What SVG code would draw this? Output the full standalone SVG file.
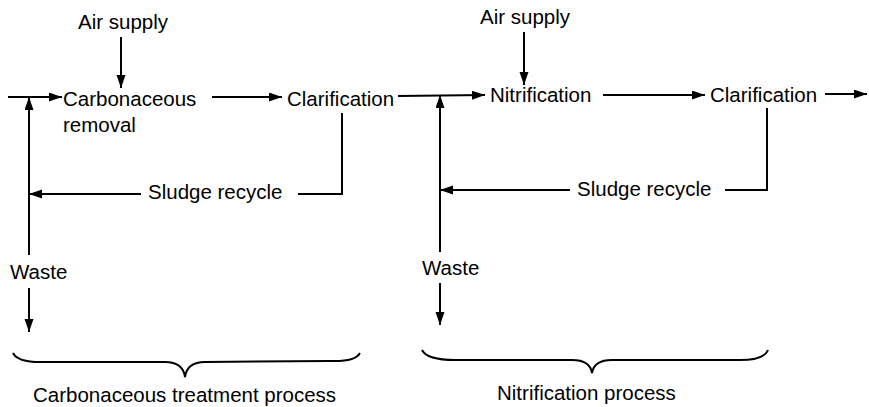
<svg xmlns="http://www.w3.org/2000/svg" width="869" height="407" viewBox="0 0 869 407">
<style>
text{font-family:"Liberation Sans",Arial,sans-serif;font-size:20.5px;fill:#000}
.c line,.c polyline{stroke:#000;stroke-width:2;fill:none}
.a{marker-end:url(#ah)}
.br{stroke:#000;stroke-width:2;fill:none}
</style>
<defs>
<marker id="ah" markerUnits="userSpaceOnUse" markerWidth="14" markerHeight="10" refX="13" refY="4.5" orient="auto">
<path d="M0,0 L13,4.5 L0,9 z" fill="#000"/>
</marker>
</defs>
<rect width="869" height="407" fill="#fff"/>
<g id="air1"><text x="78" y="29">Air supply</text></g>
<g id="carb"><text x="63" y="106">Carbonaceous</text><text x="63" y="132">removal</text></g>
<g id="clar1"><text x="287" y="106">Clarification</text></g>
<g id="sludge1"><text x="148" y="199">Sludge recycle</text></g>
<g id="waste1"><text x="10" y="279">Waste</text></g>
<g id="air2"><text x="480" y="24">Air supply</text></g>
<g id="nitr"><text x="490" y="102">Nitrification</text></g>
<g id="clar2"><text x="710" y="102">Clarification</text></g>
<g id="sludge2"><text x="577" y="196">Sludge recycle</text></g>
<g id="waste2"><text x="422" y="275">Waste</text></g>
<g id="proc1"><path class="br" d="M13,353 Q18,363 45,362 L165,362 Q183,362 185,377 Q187,362 205,362 L330,361 Q355,362 360,353"/><text x="33" y="402">Carbonaceous treatment process</text></g>
<g id="proc2"><path class="br" d="M422,350 Q427,360 455,360 L572,360 Q590,360 592,373 Q594,360 612,360 L740,360 Q764,360 768,350"/><text x="497" y="400">Nitrification process</text></g>
<g id="connectors" class="c">
<line class="a" x1="121" y1="37" x2="121" y2="88"/>
<line class="a" x1="8" y1="97" x2="62" y2="97"/>
<line class="a" x1="212" y1="97" x2="282" y2="97"/>
<line class="a" x1="398" y1="96" x2="485" y2="95"/>
<polyline points="342,113 342,194 298,194"/>
<line class="a" x1="141" y1="194" x2="29" y2="194"/>
<line class="a" x1="29" y1="255" x2="29" y2="97"/>
<line class="a" x1="29" y1="288" x2="29" y2="332"/>
<line class="a" x1="524" y1="32" x2="524" y2="85"/>
<line class="a" x1="603" y1="95" x2="705" y2="95"/>
<line class="a" x1="825" y1="94" x2="867" y2="94"/>
<polyline points="767,108 767,190 725,190"/>
<line class="a" x1="570" y1="190" x2="440" y2="190"/>
<line class="a" x1="440" y1="252" x2="440" y2="95"/>
<line class="a" x1="440" y1="283" x2="440" y2="325"/>
</g>
</svg>
